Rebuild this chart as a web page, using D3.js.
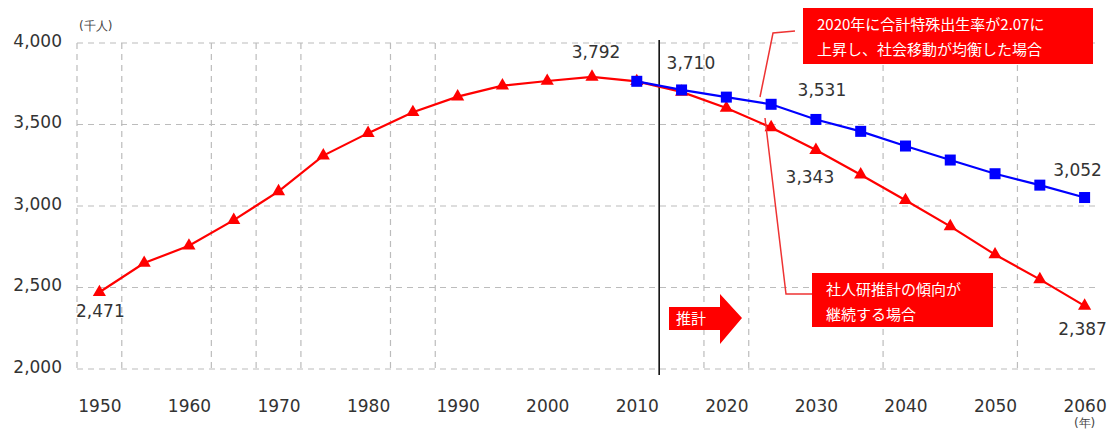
<!DOCTYPE html>
<html>
<head>
<meta charset="utf-8">
<script src="https://cdn.jsdelivr.net/npm/d3@7"></script>
<style>
  body { margin: 0; background: #fff; }
  svg text { font-family: "DejaVu Sans", Verdana, sans-serif; }
</style>
</head>
<body>
<div class="container"></div>
<script>
var years = [1950,1955,1960,1965,1970,1975,1980,1985,1990,1995,2000,2005,2010,
             2015,2020,2025,2030,2035,2040,2045,2050,2055,2060];
// 社人研推計 (actual up to 2010)
var trend = [2471,2650,2756,2913,3090,3309,3447,3575,3671,3738,3767,3792,3765,
             3700,3601,3482,3343,3192,3035,2875,2702,2550,2387];
var planYears = [2010,2015,2020,2025,2030,2035,2040,2045,2050,2055,2060];
var plan = [3765,3712,3668,3624,3531,3458,3368,3282,3198,3128,3052];

var xTicks = [1950,1960,1970,1980,1990,2000,2010,2020,2030,2040,2050,2060];
var yTicks = [2000,2500,3000,3500,4000];
var gridYears = [1947.5,1952.5,1962.5,1967.5,1972.5,1982.5,1987.5,2017.5,2022.5,2037.5,2052.5];
var splitYear = 2012.5;

var valueLabels = [
  {year: 1950, value: 2471, text: "2,471", dx: 1, dy: 25, anchor: "middle"},
  {year: 2005, value: 3792, text: "3,792", dx: 4, dy: -19, anchor: "middle"},
  {year: 2015, value: 3712, text: "3,710", dx: -15, dy: -21, anchor: "start"},
  {year: 2030, value: 3531, text: "3,531", dx: 6, dy: -23, anchor: "middle"},
  {year: 2030, value: 3343, text: "3,343", dx: -6, dy: 33, anchor: "middle"},
  {year: 2060, value: 3052, text: "3,052", dx: -7, dy: -22, anchor: "middle"},
  {year: 2060, value: 2387, text: "2,387", dx: -2, dy: 29, anchor: "middle"}
];

var W = 1117, H = 432;
var x = d3.scaleLinear().domain([1947.5, 2062.5]).range([77, 1107]);
var y = d3.scaleLinear().domain([2000, 4000]).range([369, 43]);

var svg = d3.select(".container").append("svg").attr("width", W).attr("height", H);

// grid
svg.append("g").selectAll("line").data(yTicks).enter().append("line")
  .attr("x1", x(1947.5)).attr("x2", 1100)
  .attr("y1", function(d){ return y(d); }).attr("y2", function(d){ return y(d); })
  .attr("stroke", "#bcbcbc").attr("stroke-width", 1.2).attr("stroke-dasharray", "6,5");
svg.append("g").selectAll("line").data(gridYears).enter().append("line")
  .attr("x1", function(d){ return x(d); }).attr("x2", function(d){ return x(d); })
  .attr("y1", y(4000)).attr("y2", y(2000))
  .attr("stroke", "#bcbcbc").attr("stroke-width", 1.2).attr("stroke-dasharray", "6,5");

// axes labels
var yAxis = d3.axisLeft(y).tickValues(yTicks).tickSize(0).tickPadding(0)
  .tickFormat(d3.format(","));
svg.append("g").attr("transform", "translate(62,-2)").call(yAxis)
  .call(function(g){ g.select(".domain").remove(); })
  .selectAll("text").attr("font-size", 17).attr("fill", "#333")
  .style("font-family", "'DejaVu Sans', Verdana, sans-serif");

var xAxis = d3.axisBottom(x).tickValues(xTicks).tickSize(0).tickPadding(0)
  .tickFormat(d3.format("d"));
svg.append("g").attr("transform", "translate(0,400)").call(xAxis)
  .call(function(g){ g.select(".domain").remove(); })
  .selectAll("text").attr("font-size", 17).attr("fill", "#333")
  .style("font-family", "'DejaVu Sans', Verdana, sans-serif");

svg.append("text").attr("x", 79).attr("y", 30).attr("font-size", 12).attr("fill", "#444")
  .text("(千人)");
svg.append("text").attr("x", x(2060)).attr("y", 427).attr("text-anchor", "middle")
  .attr("font-size", 12).attr("fill", "#444").text("(年)");

// split line
svg.append("line").attr("x1", x(splitYear)).attr("x2", x(splitYear))
  .attr("y1", 40).attr("y2", 375).attr("stroke", "#111").attr("stroke-width", 1.6);

// red series
var line = d3.line().x(function(d){ return x(d[0]); }).y(function(d){ return y(d[1]); });
var redPts = d3.zip(years, trend);
var bluePts = d3.zip(planYears, plan);

svg.append("path").datum(redPts).attr("d", line)
  .attr("fill", "none").attr("stroke", "#ff0000").attr("stroke-width", 2.2);
svg.append("g").selectAll("path").data(redPts).enter().append("path")
  .attr("d", d3.symbol().type(d3.symbolTriangle).size(75))
  .attr("transform", function(d){ return "translate(" + x(d[0]) + "," + y(d[1]) + ")"; })
  .attr("fill", "#ff0000");

svg.append("path").datum(bluePts).attr("d", line)
  .attr("fill", "none").attr("stroke", "#0000ff").attr("stroke-width", 2.2);
svg.append("g").selectAll("rect").data(bluePts).enter().append("rect")
  .attr("x", function(d){ return x(d[0]) - 5.5; })
  .attr("y", function(d){ return y(d[1]) - 5.5; })
  .attr("width", 11).attr("height", 11).attr("fill", "#0000ff");

// value labels
svg.append("g").selectAll("text").data(valueLabels).enter().append("text")
  .attr("x", function(d){ return x(d.year) + d.dx; })
  .attr("y", function(d){ return y(d.value) + d.dy; })
  .attr("text-anchor", function(d){ return d.anchor; })
  .attr("font-size", 17).attr("fill", "#333")
  .text(function(d){ return d.text; });

// callouts
function callout(bx, by, bw, bh, lines, leader) {
  svg.append("polyline").attr("points", leader.map(function(p){ return p.join(","); }).join(" "))
    .attr("fill", "none").attr("stroke", "#ee3333").attr("stroke-width", 1.5);
  svg.append("rect").attr("x", bx).attr("y", by).attr("width", bw).attr("height", bh)
    .attr("fill", "#ff0000");
  svg.append("g").selectAll("text").data(lines).enter().append("text")
    .attr("x", bx + 14).attr("y", function(d, i){ return by + 22 + i * 25; })
    .attr("font-size", 15).attr("fill", "#fff")
    .style("font-family", "'Noto Sans CJK JP', sans-serif")
    .text(function(d){ return d; });
}
callout(803, 8, 290, 56, ["2020年に合計特殊出生率が2.07に", "上昇し、社会移動が均衡した場合"],
  [[795, 31], [773, 33], [760, 97]]);
callout(812, 273, 181, 54, ["社人研推計の傾向が", "継続する場合"],
  [[765, 118], [786, 294], [812, 294]]);

// 推計 arrow
svg.append("path")
  .attr("d", "M669,307 L720,307 L720,294 L742,318 L720,344 L720,330 L669,330 Z")
  .attr("fill", "#ff0000");
svg.append("text").attr("x", 691).attr("y", 324).attr("text-anchor", "middle")
  .attr("font-size", 15).attr("fill", "#fff")
  .style("font-family", "'Noto Sans CJK JP', sans-serif").text("推計");
</script>
</body>
</html>
